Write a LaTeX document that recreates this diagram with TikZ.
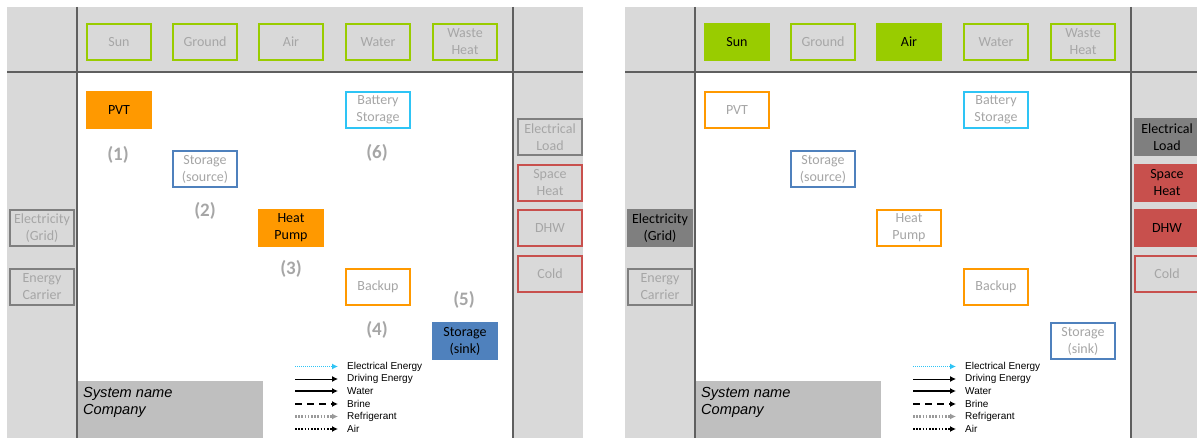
\documentclass[tikz,border=0pt]{standalone}
\usepackage{fontspec}
\setmainfont{Carlito}
\newfontfamily\legfont{Liberation Sans}
\usetikzlibrary{arrows.meta}
\definecolor{bggray}{HTML}{D9D9D9}
\definecolor{namegray}{HTML}{BFBFBF}
\definecolor{linegray}{HTML}{5F5F5F}
\definecolor{txtgray}{HTML}{A6A6A6}
\definecolor{srcgreen}{HTML}{99CC00}
\definecolor{convorange}{HTML}{FF9900}
\definecolor{battcyan}{HTML}{2EC4F5}
\definecolor{storblue}{HTML}{4F81BD}
\definecolor{sinkred}{HTML}{C8504D}
\definecolor{gridgray}{HTML}{7F7F7F}
\definecolor{refgray}{HTML}{9A9A9A}
\tikzset{
  frame/.style={draw=linegray, line width=1.5pt},
  base/.style={rectangle, anchor=north west, minimum width=64pt, minimum height=36pt,
    inner sep=0pt, line width=2pt, align=center, text=txtgray,
    font=\fontsize{14}{17}\selectfont},
  srcbox/.style={base, draw=srcgreen},
  srcon/.style={base, draw=srcgreen, fill=srcgreen, text=black},
  convbox/.style={base, draw=convorange},
  convon/.style={base, draw=convorange, fill=convorange, text=black},
  battbox/.style={base, draw=battcyan},
  storbox/.style={base, draw=storblue},
  storon/.style={base, draw=storblue, fill=storblue, text=black},
  gridbox/.style={base, draw=gridgray},
  gridon/.style={base, draw=gridgray, fill=gridgray, text=black},
  sinkbox/.style={base, draw=sinkred},
  sinkon/.style={base, draw=sinkred, fill=sinkred, text=black},
  numlab/.style={text=txtgray, font=\bfseries\fontsize{19}{22}\selectfont, inner sep=0pt},
  legtext/.style={anchor=west, inner sep=0pt, font=\legfont\fontsize{10}{12}\selectfont},
  namelab/.style={anchor=north west, align=left, inner sep=0pt,
    font=\legfont\itshape\fontsize{14.6}{17}\selectfont},
  tip/.style={-{Latex[length=6pt,width=6pt]}},
  elec/.style={tip, draw=battcyan, line width=1.3pt, dash pattern=on 1.2pt off 0.8pt},
  drive/.style={tip, draw=black, line width=1pt},
  water/.style={tip, draw=black, line width=2.6pt},
  brine/.style={tip, draw=black, line width=2.6pt, dash pattern=on 7pt off 5pt},
  refr/.style={tip, draw=refgray, line width=2.2pt, dash pattern=on 1.6pt off 1.6pt},
  airf/.style={tip, draw=black, line width=2.2pt, dash pattern=on 1.6pt off 1.6pt},
}
\begin{document}
\begin{tikzpicture}[x=1pt,y=-1pt]
\clip (0,0) rectangle (1197,441);
\fill[white] (0,0) rectangle (1197,441);

% ---------------- left panel ----------------
\fill[bggray] (7,7) rectangle (583,438);
\fill[white] (77,72) rectangle (513,438);
\fill[namegray] (77,381) rectangle (263,438);
\draw[frame] (77,7) -- (77,438);
\draw[frame] (513,7) -- (513,438);
\draw[frame] (7,72) -- (583,72);

\node[srcbox] (Lsun) at (86,23) {Sun};
\node[srcbox] (Lground) at (172,23) {Ground};
\node[srcbox] (Lair) at (258,23) {Air};
\node[srcbox] (Lwater) at (345,23) {Water};
\node[srcbox] (Lwaste) at (432,23) {Waste\\Heat};

\node[convon] (Lpvt) at (86,91) {PVT};
\node[battbox] (Lbatt) at (345,91) {Battery\\Storage};
\node[storbox] (Lstsrc) at (172,150) {Storage\\(source)};
\node[convon] (Lhp) at (258,209) {Heat\\Pump};
\node[convbox] (Lbackup) at (345,268) {Backup};
\node[storon] (Lstsink) at (432,322) {Storage\\(sink)};

\node[gridbox] (Lgrid) at (9,209) {Electricity\\(Grid)};
\node[gridbox] (Lcarrier) at (9,268) {Energy\\Carrier};

\node[gridbox] (Leload) at (517,118) {Electrical\\Load};
\node[sinkbox] (Lsheat) at (517,164) {Space\\Heat};
\node[sinkbox] (Ldhw) at (517,209) {DHW};
\node[sinkbox] (Lcold) at (517,255) {Cold};

\node[numlab] (n1) at (118,155) {(1)};
\node[numlab] (n2) at (205,211) {(2)};
\node[numlab] (n3) at (291,269) {(3)};
\node[numlab] (n4) at (377,330) {(4)};
\node[numlab] (n5) at (464,300) {(5)};
\node[numlab] (n6) at (377,153) {(6)};

\node[namelab] (Lname) at (83,387) {System name\\Company};

\coordinate (La1) at (295,366.5); \coordinate (Lb1) at (338,366.5);
\coordinate (La2) at (295,379);   \coordinate (Lb2) at (338,379);
\coordinate (La3) at (295,391);   \coordinate (Lb3) at (338,391);
\coordinate (La4) at (295,404);   \coordinate (Lb4) at (338,404);
\coordinate (La5) at (295,416.5); \coordinate (Lb5) at (338,416.5);
\coordinate (La6) at (295,429);   \coordinate (Lb6) at (338,429);
\draw[elec] (La1) -- (Lb1);
\draw[drive] (La2) -- (Lb2);
\draw[water] (La3) -- (Lb3);
\draw[brine] (La4) -- (Lb4);
\draw[refr] (La5) -- (Lb5);
\draw[airf] (La6) -- (Lb6);
\node[legtext] (Lt1) at (347,366.5) {Electrical Energy};
\node[legtext] (Lt2) at (347,379) {Driving Energy};
\node[legtext] (Lt3) at (347,391) {Water};
\node[legtext] (Lt4) at (347,404) {Brine};
\node[legtext] (Lt5) at (347,416.5) {Refrigerant};
\node[legtext] (Lt6) at (347,429) {Air};

% ---------------- right panel ----------------
\fill[bggray] (625,7) rectangle (1201,438);
\fill[white] (695,72) rectangle (1131,438);
\fill[namegray] (695,381) rectangle (881,438);
\draw[frame] (695,7) -- (695,438);
\draw[frame] (1131,7) -- (1131,438);
\draw[frame] (625,72) -- (1201,72);

\node[srcon] (Rsun) at (704,23) {Sun};
\node[srcbox] (Rground) at (790,23) {Ground};
\node[srcon] (Rair) at (876,23) {Air};
\node[srcbox] (Rwater) at (963,23) {Water};
\node[srcbox] (Rwaste) at (1050,23) {Waste\\Heat};

\node[convbox] (Rpvt) at (704,91) {PVT};
\node[battbox] (Rbatt) at (963,91) {Battery\\Storage};
\node[storbox] (Rstsrc) at (790,150) {Storage\\(source)};
\node[convbox] (Rhp) at (876,209) {Heat\\Pump};
\node[convbox] (Rbackup) at (963,268) {Backup};
\node[storbox] (Rstsink) at (1050,322) {Storage\\(sink)};

\node[gridon] (Rgrid) at (627,209) {Electricity\\(Grid)};
\node[gridbox] (Rcarrier) at (627,268) {Energy\\Carrier};

\node[gridon] (Reload) at (1134,118) {Electrical\\Load};
\node[sinkon] (Rsheat) at (1134,164) {Space\\Heat};
\node[sinkon] (Rdhw) at (1134,209) {DHW};
\node[sinkbox] (Rcold) at (1134,255) {Cold};

\node[namelab] (Rname) at (701,387) {System name\\Company};

\coordinate (Ra1) at (913,366.5); \coordinate (Rb1) at (956,366.5);
\coordinate (Ra2) at (913,379);   \coordinate (Rb2) at (956,379);
\coordinate (Ra3) at (913,391);   \coordinate (Rb3) at (956,391);
\coordinate (Ra4) at (913,404);   \coordinate (Rb4) at (956,404);
\coordinate (Ra5) at (913,416.5); \coordinate (Rb5) at (956,416.5);
\coordinate (Ra6) at (913,429);   \coordinate (Rb6) at (956,429);
\draw[elec] (Ra1) -- (Rb1);
\draw[drive] (Ra2) -- (Rb2);
\draw[water] (Ra3) -- (Rb3);
\draw[brine] (Ra4) -- (Rb4);
\draw[refr] (Ra5) -- (Rb5);
\draw[airf] (Ra6) -- (Rb6);
\node[legtext] (Rt1) at (965,366.5) {Electrical Energy};
\node[legtext] (Rt2) at (965,379) {Driving Energy};
\node[legtext] (Rt3) at (965,391) {Water};
\node[legtext] (Rt4) at (965,404) {Brine};
\node[legtext] (Rt5) at (965,416.5) {Refrigerant};
\node[legtext] (Rt6) at (965,429) {Air};
\end{tikzpicture}
\end{document}
